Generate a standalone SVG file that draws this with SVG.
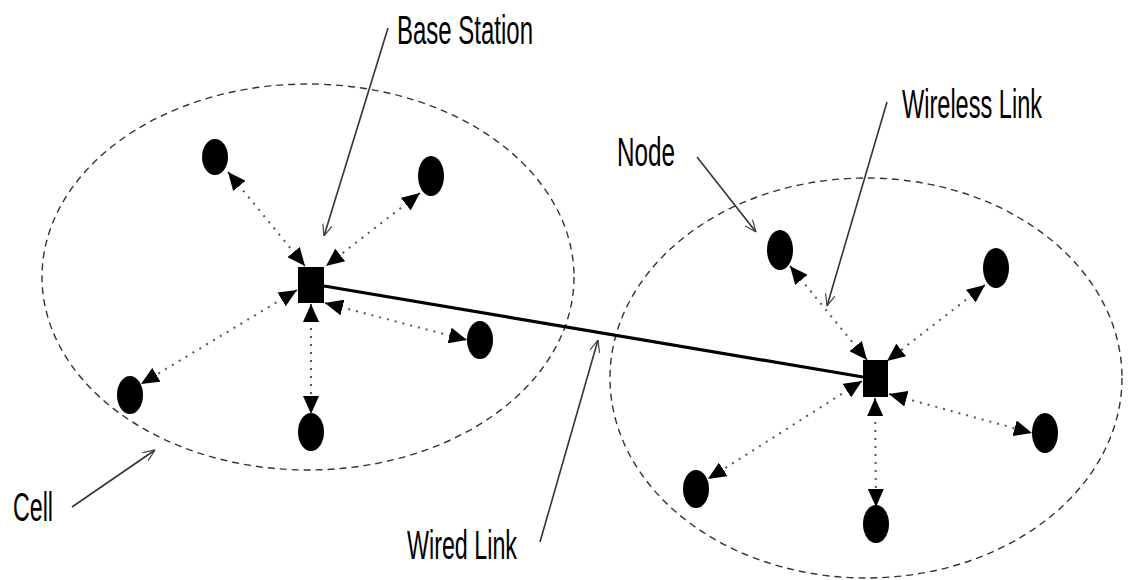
<svg xmlns="http://www.w3.org/2000/svg" width="1130" height="580" viewBox="0 0 1130 580">
  <defs>
    <marker id="head" viewBox="0 0 18 16" refX="18" refY="8" markerWidth="18" markerHeight="16" markerUnits="userSpaceOnUse" orient="auto-start-reverse">
      <path d="M0,0 L18,8 L0,16 Z" fill="#000"/>
    </marker>
    <marker id="callout" viewBox="0 0 12 10" refX="12" refY="5" markerWidth="12" markerHeight="10" markerUnits="userSpaceOnUse" orient="auto">
      <path d="M0,0 L12,5 L0,10" fill="none" stroke="#444" stroke-width="1.2"/>
    </marker>
  </defs>
  <style>
    .cell { fill: none; stroke: #333; stroke-width: 1.4; stroke-dasharray: 7 5; }
    .bs { fill: #000; }
    .node { fill: #000; }
    .wireless { fill: none; stroke: #555; stroke-width: 2; stroke-dasharray: 2 6; marker-start: url(#head); marker-end: url(#head); }
    .wired { fill: none; stroke: #000; stroke-width: 3.2; }
    .leader { fill: none; stroke: #333; stroke-width: 1.6; }
    .label { font-family: "Liberation Sans", Arial, sans-serif; font-size: 41px; fill: #000; }
  </style>
  <rect width="1130" height="580" fill="#fff"/>

  <!-- cell boundaries -->
  <g id="cells">
    <ellipse id="cell-left" class="cell" cx="308" cy="277" rx="266" ry="193"/>
    <ellipse id="cell-right" class="cell" cx="866" cy="378" rx="256" ry="200"/>
  </g>

  <!-- links -->
  <g id="connectors">
    <line class="wired" x1="324" y1="286" x2="863" y2="377"/>
    <!-- left cell wireless links -->
    <line class="wireless" x1="228" y1="172" x2="305" y2="266"/>
    <line class="wireless" x1="420" y1="193" x2="326" y2="266"/>
    <line class="wireless" x1="325" y1="303" x2="467" y2="340"/>
    <line class="wireless" x1="297" y1="290" x2="141" y2="384"/>
    <line class="wireless" x1="311" y1="304" x2="311" y2="414"/>
    <!-- right cell wireless links -->
    <line class="wireless" x1="790" y1="266" x2="867" y2="360"/>
    <line class="wireless" x1="985" y1="285" x2="887" y2="361"/>
    <line class="wireless" x1="889" y1="394" x2="1032" y2="433"/>
    <line class="wireless" x1="862" y1="381" x2="708" y2="479"/>
    <line class="wireless" x1="875" y1="398" x2="876" y2="507"/>
    <!-- label leaders -->
    <line class="leader" x1="388" y1="28" x2="324" y2="236" marker-end="url(#callout)"/>
    <line class="leader" x1="697" y1="157" x2="756" y2="232" marker-end="url(#callout)"/>
    <line class="leader" x1="887" y1="102" x2="827" y2="306" marker-end="url(#callout)"/>
    <line class="leader" x1="540" y1="542" x2="598" y2="340" marker-end="url(#callout)"/>
    <line class="leader" x1="72" y1="507" x2="155" y2="450" marker-end="url(#callout)"/>
  </g>

  <!-- base stations -->
  <g id="bs-left"><rect class="bs" x="298" y="267" width="26" height="36"/></g>
  <g id="bs-right"><rect class="bs" x="863" y="360" width="25" height="37"/></g>

  <!-- mobile nodes, left cell -->
  <g id="node-l1"><ellipse class="node" cx="215" cy="157" rx="13" ry="18"/></g>
  <g id="node-l2"><ellipse class="node" cx="431" cy="176" rx="13" ry="20"/></g>
  <g id="node-l3"><ellipse class="node" cx="480" cy="340" rx="13" ry="19"/></g>
  <g id="node-l4"><ellipse class="node" cx="130" cy="395" rx="13" ry="19"/></g>
  <g id="node-l5"><ellipse class="node" cx="311" cy="432" rx="13" ry="19"/></g>

  <!-- mobile nodes, right cell -->
  <g id="node-r1"><ellipse class="node" cx="780" cy="250" rx="13" ry="20"/></g>
  <g id="node-r2"><ellipse class="node" cx="996" cy="268" rx="13" ry="20"/></g>
  <g id="node-r3"><ellipse class="node" cx="1045" cy="433" rx="13" ry="20"/></g>
  <g id="node-r4"><ellipse class="node" cx="696" cy="489" rx="13" ry="19"/></g>
  <g id="node-r5"><ellipse class="node" cx="876" cy="524" rx="13" ry="19"/></g>

  <!-- labels -->
  <g id="labels">
    <text class="label" x="397" y="44" textLength="136" lengthAdjust="spacingAndGlyphs">Base Station</text>
    <text class="label" x="617" y="166" textLength="58" lengthAdjust="spacingAndGlyphs">Node</text>
    <text class="label" x="902" y="118" textLength="140" lengthAdjust="spacingAndGlyphs">Wireless Link</text>
    <text class="label" x="407" y="559" textLength="110" lengthAdjust="spacingAndGlyphs">Wired Link</text>
    <text class="label" x="13" y="521" textLength="40" lengthAdjust="spacingAndGlyphs">Cell</text>
  </g>
</svg>
